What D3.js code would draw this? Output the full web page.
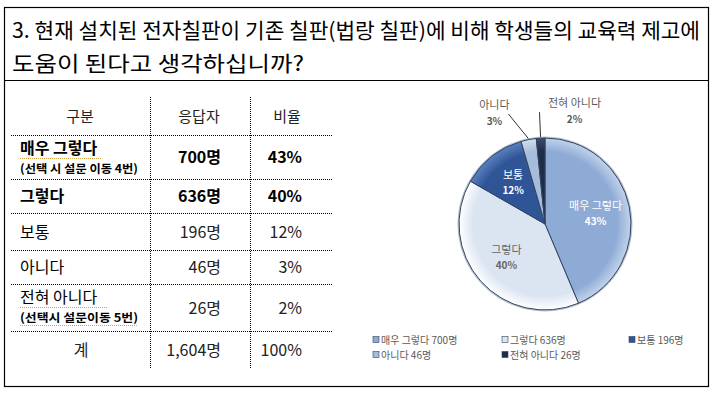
<!DOCTYPE html>
<html>
<head>
<meta charset="utf-8">
<script src="https://cdn.jsdelivr.net/npm/d3@7"></script>
<style>
  body { margin: 0; background: #fff; }
  text { font-family: "Noto Sans CJK KR", "Noto Sans", sans-serif; }
</style>
</head>
<body>
<svg id="chart"></svg>
<script>
//data
const titleLines = ["3. 현재 설치된 전자칠판이 기존 칠판(법랑 칠판)에 비해 학생들의 교육력 제고에", "도움이 된다고 생각하십니까?"];
const headers = ["구분", "응답자", "비율"];
const categories = ["매우 그렇다", "그렇다", "보통", "아니다", "전혀 아니다"];
const notes = ["(선택 시 설문 이동 4번)", "", "", "", "(선택시 설문이동 5번)"];
const counts = [700, 636, 196, 46, 26];
const percents = ["43%", "40%", "12%", "3%", "2%"];
const totalLabel = ["계", "1,604명", "100%"];
const colors = ["#8eabd6", "#dbe5f2", "#2f5597", "#a6bcdb", "#1f2d47"];
const rimColors = ["#c2d3ea", "#ffffff", "#5a80c0", "#d0ddef", "#3c4c6c"];

//constants
const W = 715, H = 393;
const svg = d3.select("#chart").attr("width", W).attr("height", H);

svg.append("rect").attr("width", W).attr("height", H).attr("fill", "#fff");

//frame
svg.append("rect")
    .attr("x", 4.5).attr("y", 7.5)
    .attr("width", 704).attr("height", 379)
    .attr("fill", "none").attr("stroke", "#000").attr("stroke-width", 1.2);
svg.append("line")
    .attr("x1", 4.5).attr("x2", 708.5).attr("y1", 80.5).attr("y2", 80.5)
    .attr("stroke", "#000").attr("stroke-width", 1.2);

//title
svg.selectAll(".title")
    .data(titleLines)
    .enter()
    .append("text")
    .attr("class", "title")
    .attr("x", 12)
    .attr("y", (d, i) => 38 + i * 33)
    .attr("font-size", 21)
    .attr("fill", "#000")
    .attr("textLength", (d, i) => i === 0 ? 688 : 292)
    .attr("lengthAdjust", "spacingAndGlyphs")
    .text(d => d);

//table
const rowTops = [97, 135, 179, 213, 250, 284, 331, 368];
const colX = [20, 221, 302];
const table = svg.append("g").attr("class", "table");

table.selectAll(".hline")
    .data(rowTops.slice(1, 7))
    .enter()
    .append("line")
    .attr("x1", 11).attr("x2", 333)
    .attr("y1", d => d + 0.5).attr("y2", d => d + 0.5)
    .attr("stroke", "#000").attr("stroke-width", 1)
    .attr("stroke-dasharray", "1,1");

table.selectAll(".vline")
    .data([150, 250])
    .enter()
    .append("line")
    .attr("x1", d => d + 0.5).attr("x2", d => d + 0.5)
    .attr("y1", 97).attr("y2", 368)
    .attr("stroke", "#000").attr("stroke-width", 1)
    .attr("stroke-dasharray", "1,1");

//header
table.selectAll(".head")
    .data(headers)
    .enter()
    .append("text")
    .attr("x", (d, i) => [80, 199, 287][i])
    .attr("y", 122)
    .attr("text-anchor", "middle")
    .attr("font-size", 15)
    .attr("fill", "#222")
    .text(d => d);

//rows
categories.forEach((c, i) => {
    const top = rowTops[i + 1], bot = rowTops[i + 2];
    const mid = (top + bot) / 2;
    const bold = i < 2;
    const hasNote = notes[i] !== "";
    table.append("text")
        .attr("x", colX[0])
        .attr("y", hasNote ? top + 19 : mid + 6)
        .attr("font-size", 16)
        .attr("font-weight", bold ? "bold" : "normal")
        .attr("fill", "#000")
        .text(c);
    if (hasNote) {
        table.append("text")
            .attr("x", colX[0])
            .attr("y", top + 38)
            .attr("font-size", 11.5)
            .attr("font-weight", "bold")
            .attr("textLength", 118)
            .attr("lengthAdjust", "spacingAndGlyphs")
            .attr("fill", "#000")
            .text(notes[i]);
        //spellcheck squiggle
        table.append("line")
            .attr("x1", colX[0]).attr("x2", colX[0] + (bold ? 82 : 88))
            .attr("y1", top + 23.5).attr("y2", top + 23.5)
            .attr("stroke", "#d8a040").attr("stroke-width", 1)
            .attr("stroke-dasharray", "1,1");
        if (!bold) {
            table.append("line")
                .attr("x1", colX[0]).attr("x2", colX[0] + 118)
                .attr("y1", top + 41.5).attr("y2", top + 41.5)
                .attr("stroke", "#d8a040").attr("stroke-width", 1)
                .attr("stroke-dasharray", "1,1");
        }
    }
    table.append("text")
        .attr("x", colX[1]).attr("y", mid + 6)
        .attr("text-anchor", "end")
        .attr("font-size", 16)
        .attr("font-weight", bold ? "bold" : "normal")
        .attr("fill", bold ? "#000" : "#222")
        .text(counts[i] + "명");
    table.append("text")
        .attr("x", colX[2]).attr("y", mid + 6)
        .attr("text-anchor", "end")
        .attr("font-size", 16)
        .attr("font-weight", bold ? "bold" : "normal")
        .attr("fill", bold ? "#000" : "#222")
        .text(percents[i]);
});

//total row
table.selectAll(".total")
    .data(totalLabel)
    .enter()
    .append("text")
    .attr("x", (d, i) => [81, colX[1], colX[2]][i])
    .attr("y", 356)
    .attr("text-anchor", (d, i) => i === 0 ? "middle" : "end")
    .attr("font-size", 16)
    .attr("fill", "#222")
    .text(d => d);

//pie
const cx = 545, cy = 224, R = 86;
const defs = svg.append("defs");
colors.forEach((c, i) => {
    const g = defs.append("radialGradient")
        .attr("id", "grad" + i)
        .attr("gradientUnits", "userSpaceOnUse")
        .attr("cx", 0).attr("cy", 0).attr("r", R);
    g.append("stop").attr("offset", "0%").attr("stop-color", c);
    g.append("stop").attr("offset", "84%").attr("stop-color", c);
    g.append("stop").attr("offset", "100%").attr("stop-color", rimColors[i]);
});

const pie = d3.pie().sort(null).value(d => d);
const arc = d3.arc().innerRadius(0).outerRadius(R);
const labelArc = d3.arc().innerRadius(R * 0.6).outerRadius(R * 0.6);
const edgeArc = d3.arc().innerRadius(R + 1).outerRadius(R + 1);
const outArc = d3.arc().innerRadius(R + 22).outerRadius(R + 22);
const arcs = pie(counts);

const pg = svg.append("g").attr("transform", "translate(" + cx + "," + cy + ")");

//shadow rim
pg.append("circle")
    .attr("r", R + 1.5)
    .attr("fill", "#b8c2d2");

pg.selectAll(".slice")
    .data(arcs)
    .enter()
    .append("path")
    .attr("class", "slice")
    .attr("d", arc)
    .attr("fill", (d, i) => "url(#grad" + i + ")")
    .attr("stroke", "#33445f")
    .attr("stroke-width", 1);

//inside labels
const inside = arcs.slice(0, 3);
const insideFill = ["#fff", "#666", "#fff"];
pg.selectAll(".lbl")
    .data(inside)
    .enter()
    .append("text")
    .attr("transform", d => "translate(" + labelArc.centroid(d) + ")")
    .attr("text-anchor", "middle")
    .attr("font-size", 11)
    .attr("fill", (d, i) => insideFill[i])
    .attr("y", -4)
    .text((d, i) => categories[i]);
pg.selectAll(".pct")
    .data(inside)
    .enter()
    .append("text")
    .attr("transform", d => "translate(" + labelArc.centroid(d) + ")")
    .attr("text-anchor", "middle")
    .attr("font-size", 10)
    .attr("font-weight", "bold")
    .attr("fill", (d, i) => insideFill[i])
    .attr("y", 11)
    .text((d, i) => percents[i]);

//outside labels
const outside = arcs.slice(3);
const shiftX = [-30, 35];
outside.forEach((d, k) => {
    const i = k + 3;
    const p0 = edgeArc.centroid(d);
    const p1 = outArc.centroid(d);
    const lx = p1[0] + shiftX[k];
    const ly = p1[1] - 3;
    pg.append("line")
        .attr("x1", p0[0]).attr("y1", p0[1])
        .attr("x2", k === 0 ? p1[0] - 16 : p1[0]).attr("y2", p1[1] - 4)
        .attr("stroke", "#333").attr("stroke-width", 1);
    pg.append("text")
        .attr("x", lx).attr("y", ly - 6)
        .attr("text-anchor", "middle")
        .attr("font-size", 11)
        .attr("fill", "#595959")
        .text(categories[i]);
    pg.append("text")
        .attr("x", lx).attr("y", ly + 10)
        .attr("text-anchor", "middle")
        .attr("font-size", 10)
        .attr("font-weight", "bold")
        .attr("fill", "#595959")
        .text(percents[i]);
});

//legend
const legX = [373, 502, 629];
const legend = svg.append("g").attr("class", "legend");
categories.forEach((c, i) => {
    const x = legX[i % 3];
    const y = 340 + Math.floor(i / 3) * 15;
    legend.append("rect")
        .attr("x", x).attr("y", y - 3.5)
        .attr("width", 6).attr("height", 6)
        .attr("fill", colors[i])
        .attr("stroke", "#33445f").attr("stroke-width", 0.6);
    legend.append("text")
        .attr("x", x + 8).attr("y", y + 3.5)
        .attr("font-size", 10)
        .attr("fill", "#595959")
        .text(c + " " + counts[i] + "명");
});
</script>
</body>
</html>
